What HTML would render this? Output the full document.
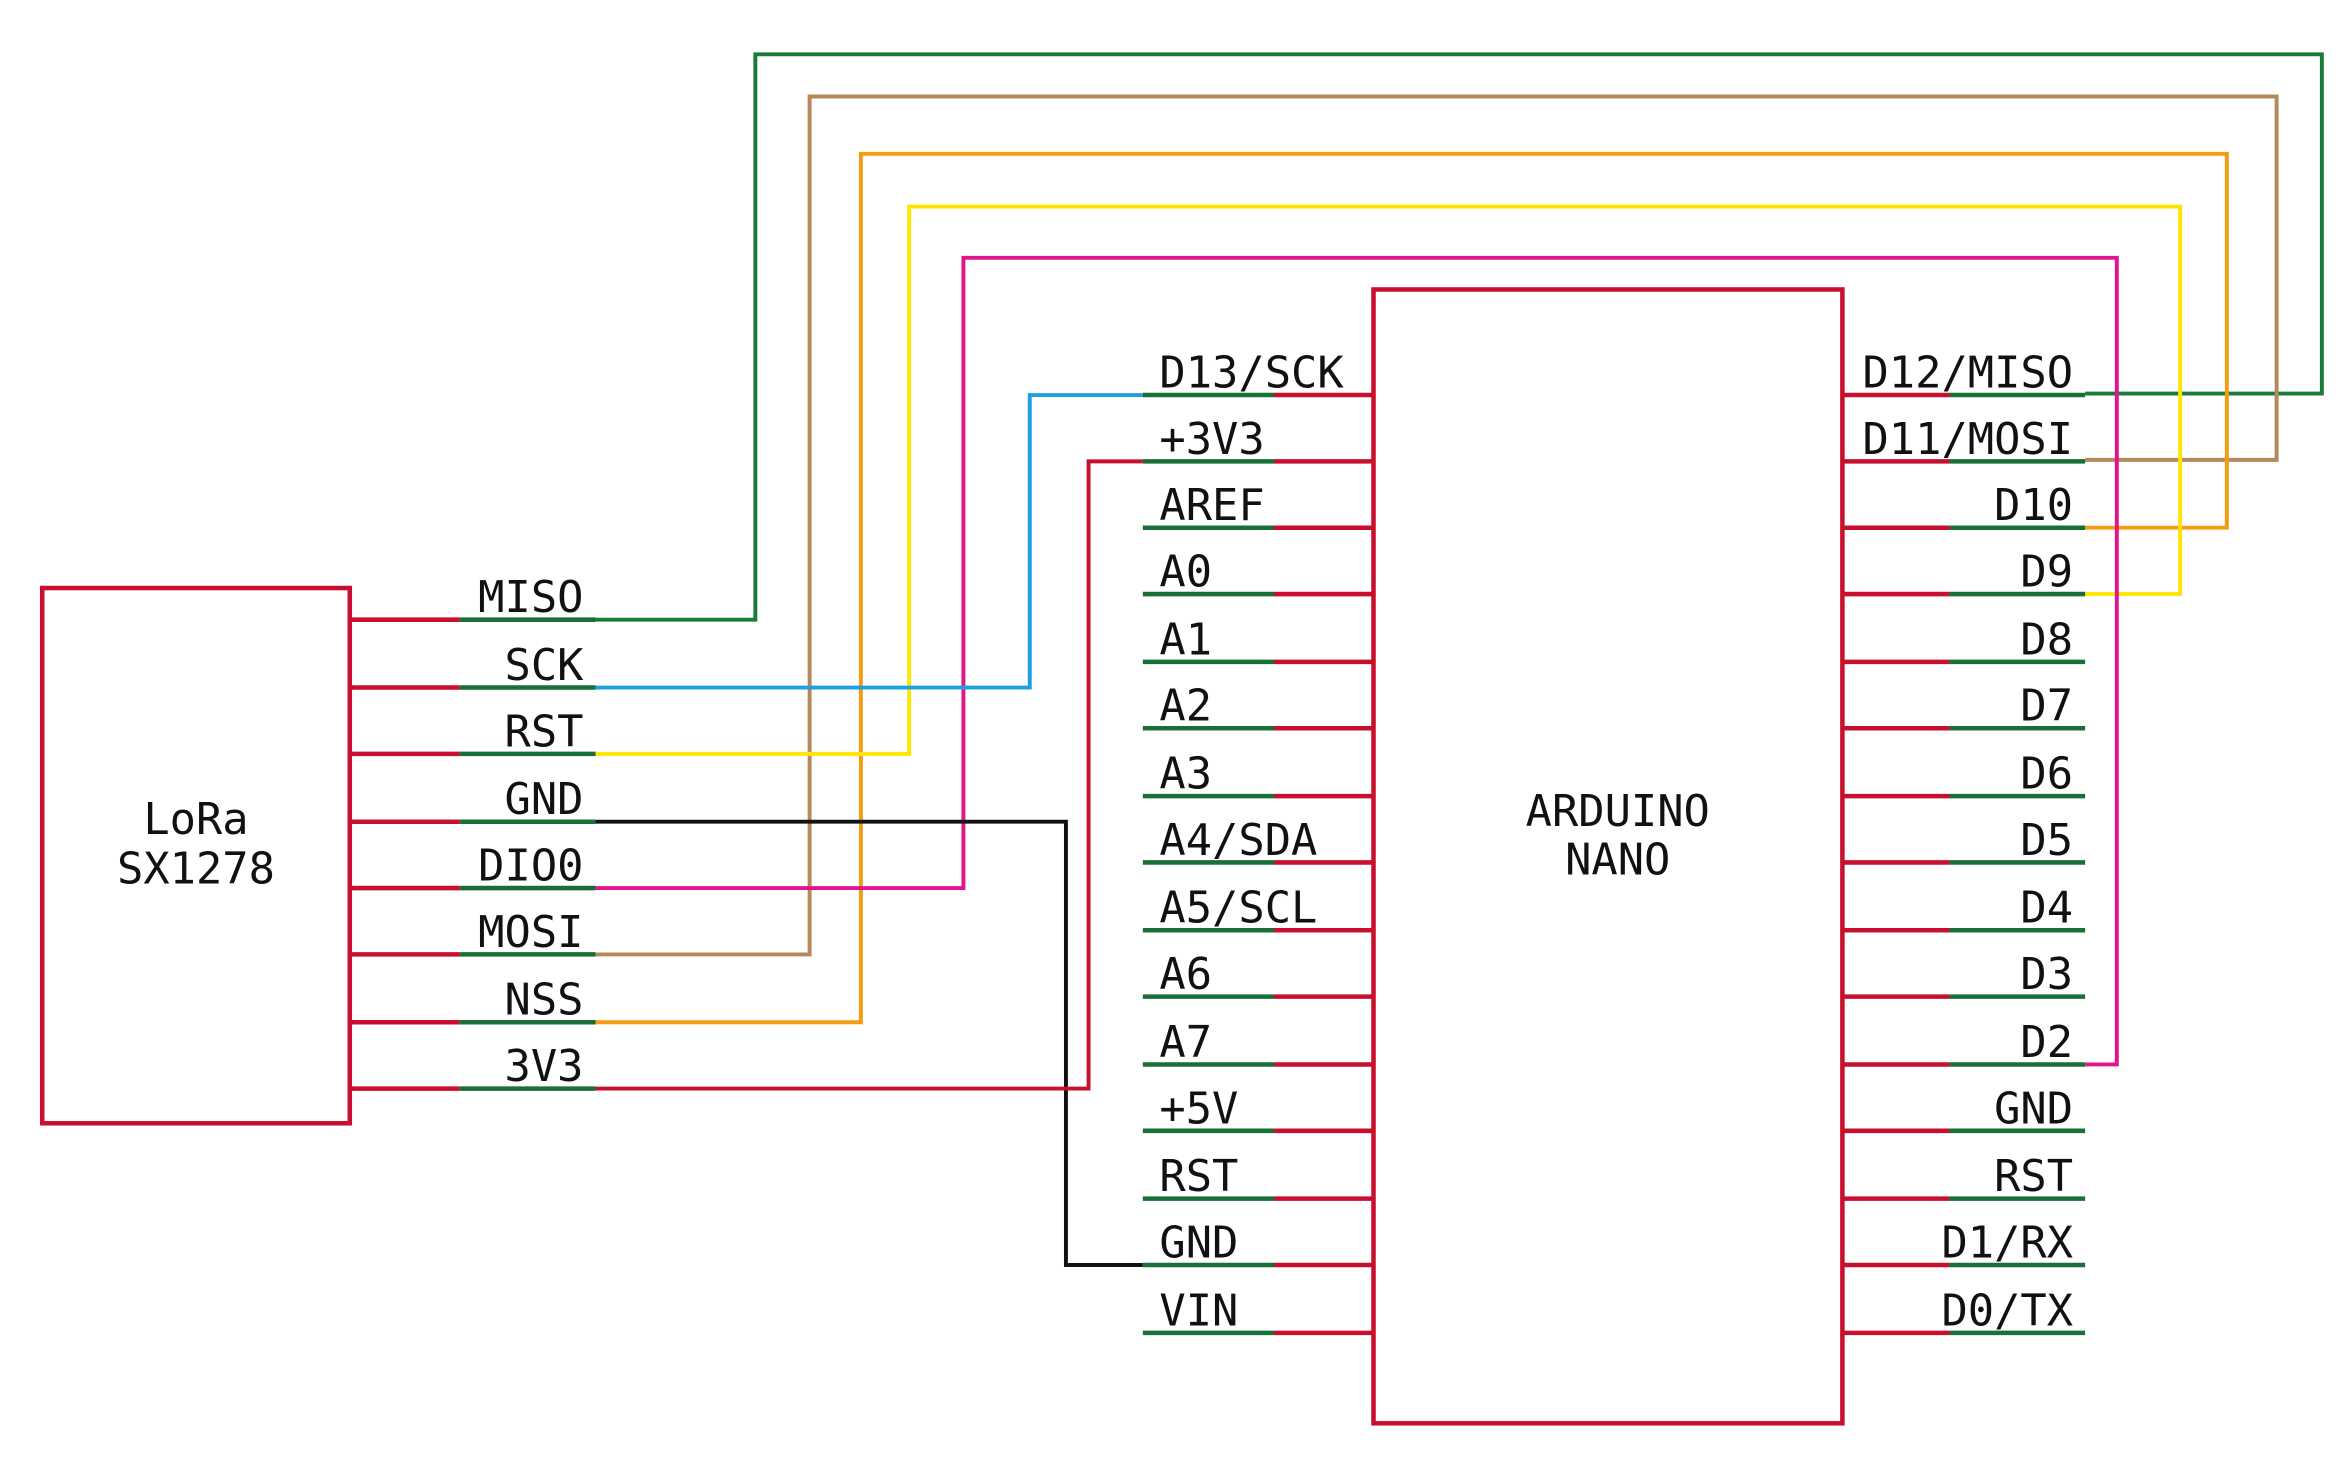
<!DOCTYPE html>
<html><head><meta charset="utf-8"><style>
html,body{margin:0;padding:0;background:#fff;}
svg{display:block;}
text{font-family:"DejaVu Sans Mono","Liberation Mono",monospace;font-size:29px;fill:#111;}
</style></head><body>
<svg width="2352" height="1458" viewBox="0 0 1560 967" preserveAspectRatio="none" xmlns="http://www.w3.org/2000/svg">
<g fill="none" stroke-width="2.6" stroke-linejoin="miter">
<polyline stroke="#1a7a3a" points="395,411 501,411 501,36 1540,36 1540,261 1383,261"/>
<polyline stroke="#b5885a" points="395,633 537,633 537,64 1510,64 1510,305 1383,305"/>
<polyline stroke="#f39c12" points="395,678 571,678 571,102 1477,102 1477,350 1383,350"/>
<polyline stroke="#ffe500" points="395,500 603,500 603,137 1446,137 1446,394 1383,394"/>
<polyline stroke="#e0148c" points="395,589 639,589 639,171 1404,171 1404,706 1383,706"/>
<polyline stroke="#1ea0e0" points="395,456 683,456 683,262 758,262"/>
<polyline stroke="#111" points="395,545 707,545 707,839 758,839"/>
<polyline stroke="#c8102e" points="395,722 722,722 722,306 758,306"/>
<rect x="28" y="390" width="204" height="355" stroke="#c8102e" stroke-width="3"/>
<rect x="911" y="192" width="311" height="752" stroke="#c8102e" stroke-width="3"/>
</g>
<g stroke-width="3">
<line x1="232" y1="411" x2="305" y2="411" stroke="#c8102e"/><line x1="305" y1="411" x2="395" y2="411" stroke="#1a6e3a"/>
<line x1="232" y1="456" x2="305" y2="456" stroke="#c8102e"/><line x1="305" y1="456" x2="395" y2="456" stroke="#1a6e3a"/>
<line x1="232" y1="500" x2="305" y2="500" stroke="#c8102e"/><line x1="305" y1="500" x2="395" y2="500" stroke="#1a6e3a"/>
<line x1="232" y1="545" x2="305" y2="545" stroke="#c8102e"/><line x1="305" y1="545" x2="395" y2="545" stroke="#1a6e3a"/>
<line x1="232" y1="589" x2="305" y2="589" stroke="#c8102e"/><line x1="305" y1="589" x2="395" y2="589" stroke="#1a6e3a"/>
<line x1="232" y1="633" x2="305" y2="633" stroke="#c8102e"/><line x1="305" y1="633" x2="395" y2="633" stroke="#1a6e3a"/>
<line x1="232" y1="678" x2="305" y2="678" stroke="#c8102e"/><line x1="305" y1="678" x2="395" y2="678" stroke="#1a6e3a"/>
<line x1="232" y1="722" x2="305" y2="722" stroke="#c8102e"/><line x1="305" y1="722" x2="395" y2="722" stroke="#1a6e3a"/>
</g>
<g stroke-width="3" id="ap"></g>
<g text-anchor="end">
<text x="387" y="406">MISO</text><text x="387" y="451">SCK</text><text x="387" y="495">RST</text>
<text x="387" y="540">GND</text><text x="387" y="584">DIO0</text><text x="387" y="628">MOSI</text>
<text x="387" y="673">NSS</text><text x="387" y="717">3V3</text>
</g>
<g text-anchor="middle">
<text x="130" y="553">LoRa</text><text x="130" y="586">SX1278</text>
<text x="1073" y="548">ARDUINO</text><text x="1073" y="580">NANO</text>
</g>
<g id="lt"></g>
<g id="rt" text-anchor="end"></g>
</svg>
<script>
var NS="http://www.w3.org/2000/svg";
var ys=[262,306,350,394,439,483,528,572,617,661,706,750,795,839,884];
var L=["D13/SCK","+3V3","AREF","A0","A1","A2","A3","A4/SDA","A5/SCL","A6","A7","+5V","RST","GND","VIN"];
var R=["D12/MISO","D11/MOSI","D10","D9","D8","D7","D6","D5","D4","D3","D2","GND","RST","D1/RX","D0/TX"];
var ap=document.getElementById("ap"),lt=document.getElementById("lt"),rt=document.getElementById("rt");
function ln(x1,x2,y,c){var l=document.createElementNS(NS,"line");l.setAttribute("x1",x1);l.setAttribute("x2",x2);l.setAttribute("y1",y);l.setAttribute("y2",y);l.setAttribute("stroke",c);ap.appendChild(l);}
function tx(g,x,y,s){var t=document.createElementNS(NS,"text");t.setAttribute("x",x);t.setAttribute("y",y);t.textContent=s;g.appendChild(t);}
for(var i=0;i<15;i++){var y=ys[i];
ln(758,845,y,"#1a6e3a");ln(845,911,y,"#c8102e");
ln(1222,1293,y,"#c8102e");ln(1293,1383,y,"#1a6e3a");
tx(lt,769,y-5,L[i]);tx(rt,1375,y-5,R[i]);}
</script>
</body></html>
